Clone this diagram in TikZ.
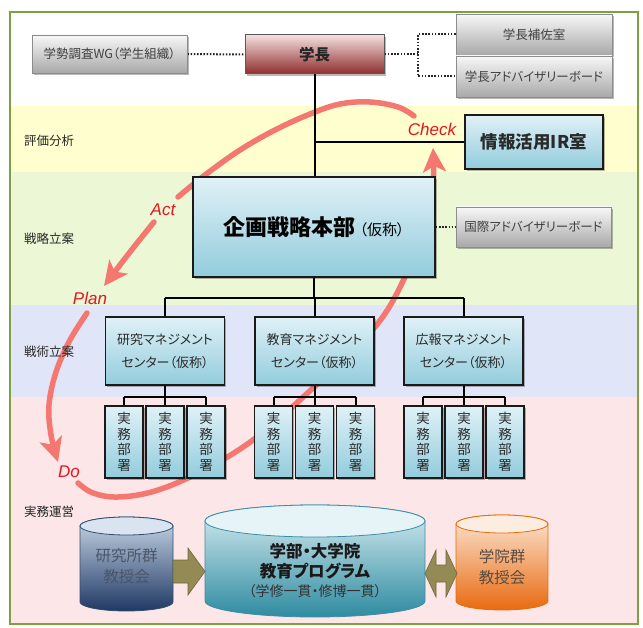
\documentclass[tikz,border=0pt]{standalone}
\usepackage{fontspec}
\newfontfamily\jp{Noto Sans CJK JP}[RawFeature=+palt]
\newfontfamily\lat{Liberation Sans}
\usetikzlibrary{arrows.meta,shadows,calc}
\pgfdeclarelayer{back}
\pgfdeclarelayer{pdca}
\pgfdeclarelayer{lines}
\pgfsetlayers{back,pdca,lines,main}
\definecolor{bandY}{HTML}{FEFECF}
\definecolor{bandG}{HTML}{EBF7D5}
\definecolor{bandB}{HTML}{E1E5F8}
\definecolor{bandP}{HTML}{FDE6E8}
\definecolor{frame}{HTML}{7F9F45}
\definecolor{graytop}{HTML}{F8F8F8}
\definecolor{graybot}{HTML}{A8A8A8}
\definecolor{grayline}{HTML}{8C8C8C}
\definecolor{graytext}{HTML}{404040}
\definecolor{bluetop}{HTML}{E0F1F7}
\definecolor{bluebot}{HTML}{92CCDC}
\definecolor{boxline}{HTML}{1A1A1A}
\definecolor{bluetext}{HTML}{2A2A2A}
\definecolor{gakutop}{HTML}{F4DEDE}
\definecolor{gakubot}{HTML}{8E2C2C}
\definecolor{gakuline}{HTML}{595959}
\definecolor{pdcared}{HTML}{F47870}
\definecolor{labred}{HTML}{E3161E}
\definecolor{cylLtop}{HTML}{C9D8E8}
\definecolor{cylLbot}{HTML}{1F3864}
\definecolor{cylLcap}{HTML}{D9E4F0}
\definecolor{cylLline}{HTML}{2F4F70}
\definecolor{cylLtext}{HTML}{4A5568}
\definecolor{cylCtop}{HTML}{DAEEF3}
\definecolor{cylCbot}{HTML}{2E8BA0}
\definecolor{cylCcap}{HTML}{E6F4F8}
\definecolor{cylCline}{HTML}{3B8EA5}
\definecolor{cylRtop}{HTML}{FCE6D4}
\definecolor{cylRbot}{HTML}{E86A10}
\definecolor{cylRcap}{HTML}{FDEDE0}
\definecolor{cylRline}{HTML}{E46C0A}
\definecolor{cylRtext}{HTML}{5A4A40}
\definecolor{olive}{HTML}{948A54}
\definecolor{oliveline}{HTML}{6E6840}
\begin{document}
\begin{tikzpicture}[x=1pt,y=1pt,
  shadowed/.style={drop shadow={shadow xshift=1.5pt,shadow yshift=-1.8pt,opacity=0.28,fill=black}},
  graybox/.style={shadowed, draw=grayline, line width=0.8pt, top color=graytop, bottom color=graybot,
    text=graytext, inner sep=0pt, font=\jp\fontsize{12.5}{15}\selectfont},
  bluebox/.style={shadowed, draw=boxline, line width=1.2pt, top color=bluetop, bottom color=bluebot,
    text=bluetext, inner sep=0pt, align=center},
  centerbox/.style={bluebox, minimum width=119pt, minimum height=68pt, font=\jp\fontsize{13}{23}\selectfont},
  jbox/.style={bluebox, minimum width=38pt, minimum height=72pt, font=\jp\fontsize{13.5}{15.5}\selectfont},
  conn/.style={line width=2pt, black},
  dots/.style={line width=2pt, dash pattern=on 1.6pt off 1.6pt, black!85},
  pdca/.style={draw=pdcared, line width=5.5pt, line cap=round},
  pdcatip/.style={-{Stealth[length=24pt,width=23pt,inset=6pt]}},
  pdcalab/.style={text=labred, font=\lat\itshape\fontsize{17}{20}\selectfont, inner sep=0pt},
  bandlab/.style={anchor=west, font=\jp\fontsize{12.5}{15}\selectfont, text=black!85, inner sep=0pt},
  cyltext/.style={font=\jp\fontsize{15.5}{21}\selectfont, align=center, inner sep=0pt},
  blockarrow/.style={fill=olive, draw=oliveline, line width=0.6pt}
]
\useasboundingbox (0,0) rectangle (643,-628);
\begin{pgfonlayer}{back}
  \fill[white] (0,0) rectangle (643,-628);
  \fill[white] (10,-12) rectangle (638,-106);
  \fill[bandY] (10,-106) rectangle (638,-172);
  \fill[bandG] (10,-172) rectangle (638,-305);
  \fill[bandB] (10,-305) rectangle (638,-397);
  \fill[bandP] (10,-397) rectangle (638,-624);
  \draw[frame, line width=2pt] (10,-12) rectangle (638,-624);
\end{pgfonlayer}

% band labels
\node[bandlab] (l1) at (24,-141) {評価分析};
\node[bandlab] (l2) at (24,-239) {戦略立案};
\node[bandlab] (l3) at (24,-352) {戦術立案};
\node[bandlab] (l4) at (24,-512) {実務運営};

% PDCA cycle
\begin{pgfonlayer}{pdca}
  \draw[pdca] plot[smooth, tension=0.6] coordinates {(414,-116) (398,-107) (370,-102) (340,-104) (310,-114) (275,-130) (240,-150) (205,-175) (178,-197)};
  \draw[pdca, pdcatip] plot[smooth, tension=0.6] coordinates {(154,-222) (130,-252) (104,-286)};
  \draw[pdca, pdcatip] plot[smooth, tension=0.6] coordinates {(87,-313) (70,-340) (56,-372) (49,-405) (51,-435) (58,-462)};
  \draw[pdca, pdcatip] plot[smooth, tension=0.6] coordinates {(78,-483) (93,-493) (118,-497) (155,-491) (200,-472) (253,-440) (313,-388) (375,-327) (405,-277) (424,-228) (433,-185) (433,-148)};
\end{pgfonlayer}

% top row
\node[graybox, minimum width=155pt, minimum height=38pt] (wg) at (109.5,-54) {学勢調査WG（学生組織）};
\node[shadowed, draw=gakuline, line width=1pt, top color=gakutop, bottom color=gakubot,
  minimum width=139pt, minimum height=39pt, inner sep=0pt,
  font=\jp\bfseries\fontsize{15.5}{18}\selectfont, text=black!85] (gakucho) at (314.5,-54.5) {学長};
\node[graybox, minimum width=156pt, minimum height=41pt] (hosa) at (534,-34.5) {学長補佐室};
\node[graybox, minimum width=156pt, minimum height=41pt] (adv) at (534,-76.5) {学長アドバイザリーボード};

\node[bluebox, line width=2.2pt, minimum width=138pt, minimum height=54pt,
  font=\jp\bfseries\fontsize{17.5}{20}\selectfont] (ir) at (534,-142) {情報活用IR室};
\node[bluebox, line width=1.5pt, minimum width=242pt, minimum height=100pt,
  font=\jp\bfseries\fontsize{22}{26}\selectfont, text=black] (kikaku) at (314,-227)
  {企画戦略本部\hspace{4pt}{\mdseries\fontsize{15}{18}\selectfont （仮称）}};
\node[graybox, minimum width=155pt, minimum height=40pt] (kokusai) at (533.5,-227) {国際アドバイザリーボード};

% centers
\node[centerbox] (c1) at (165,-351) {研究マネジメント\\センター（仮称）};
\node[centerbox] (c2) at (314.5,-351) {教育マネジメント\\センター（仮称）};
\node[centerbox] (c3) at (463.5,-351) {広報マネジメント\\センター（仮称）};

% jitsumu
\foreach \n/\x in {ja1/124, ja2/165, ja3/206, jb1/273.5, jb2/314.5, jb3/355.5, jc1/423, jc2/464, jc3/505}
  \node[jbox] (\n) at (\x,-442) {実\\務\\部\\署};

% connectors
\coordinate (brk) at (418,-54.5);
\coordinate (bar) at (0,-298);
\coordinate (sbar) at (0,-397);
\begin{pgfonlayer}{lines}
  \draw[dots] (wg.east) -- (gakucho.west);
  \draw[dots] (gakucho.east) -- (brk);
  \draw[dots] (hosa.west) -| (brk) |- (adv.west);
  \draw[dots] (kikaku.east |- kokusai.west) -- (kokusai.west);
  \draw[conn] (gakucho.south) -- (gakucho.south |- kikaku.north);
  \draw[conn] (gakucho.south |- ir.west) -- (ir.west);
  \draw[conn] (kikaku.south) -- (kikaku.south |- bar);
  \draw[conn] (c1.north |- bar) -- (c3.north |- bar);
  \foreach \c in {c1,c2,c3} \draw[conn] (\c.north |- bar) -- (\c.north);
  \foreach \c/\g in {c1/ja, c2/jb, c3/jc} {
    \draw[conn] (\c.south) -- (\c.south |- sbar);
    \draw[conn] (\g1.north |- sbar) -- (\g3.north |- sbar);
    \foreach \k in {1,2,3} \draw[conn] (\g\k.north |- sbar) -- (\g\k.north);
  }
\end{pgfonlayer}

% cylinders
\shade[top color=cylLtop, bottom color=cylLbot, draw=cylLline, line width=0.8pt]
  (80,-526) -- (80,-602) arc[start angle=180,end angle=360,x radius=46.5pt,y radius=9pt]
  -- (173,-526) arc[start angle=0,end angle=180,x radius=46.5pt,y radius=9pt] -- cycle;
\draw[fill=cylLcap, draw=cylLline, line width=0.8pt] (126.5,-526) ellipse[x radius=46.5pt, y radius=9pt];
\node[cyltext, text=cylLtext] (cylL) at (126.5,-566.5) {研究所群\\教授会};

\shade[top color=cylCtop, bottom color=cylCbot, draw=cylCline, line width=0.8pt]
  (205,-521) -- (205,-601) arc[start angle=180,end angle=360,x radius=110pt,y radius=16pt]
  -- (425,-521) arc[start angle=0,end angle=180,x radius=110pt,y radius=16pt] -- cycle;
\draw[fill=cylCcap, draw=cylCline, line width=0.8pt] (315,-521) ellipse[x radius=110pt, y radius=16pt];
\node[font=\jp\bfseries\fontsize{16.5}{20}\selectfont, text=black!90, inner sep=0pt] (cC1) at (315,-551) {学部・大学院};
\node[font=\jp\bfseries\fontsize{16.5}{20}\selectfont, text=black!90, inner sep=0pt] (cC2) at (315,-571) {教育プログラム};
\node[font=\jp\fontsize{14}{17}\selectfont, text=black!80, inner sep=0pt] (cC3) at (315,-591) {（学修一貫・修博一貫）};

\shade[top color=cylRtop, bottom color=cylRbot, draw=cylRline, line width=0.8pt]
  (456,-524) -- (456,-601) arc[start angle=180,end angle=360,x radius=46pt,y radius=9pt]
  -- (548,-524) arc[start angle=0,end angle=180,x radius=46pt,y radius=9pt] -- cycle;
\draw[fill=cylRcap, draw=cylRline, line width=0.8pt] (502,-524) ellipse[x radius=46pt, y radius=9pt];
\node[cyltext, text=cylRtext] (cylR) at (502,-567) {学院群\\教授会};

% block arrows
\coordinate (aL) at (173,-571.5);
\coordinate (aLt) at (205,-571.5);
\draw[blockarrow] ($(aL)+(0,11.5)$) -- ($(aL)+(15,11.5)$) -- ($(aL)+(15,23.5)$) -- (aLt)
  -- ($(aL)+(15,-23.5)$) -- ($(aL)+(15,-11.5)$) -- ($(aL)+(0,-11.5)$) -- cycle;
\coordinate (dL) at (425,-573.5);
\coordinate (dR) at (457,-573.5);
\draw[blockarrow] (dL) -- ($(dL)+(11,23.5)$) -- ($(dL)+(11,8.5)$) -- ($(dR)+(-11,8.5)$) -- ($(dR)+(-11,23.5)$)
  -- (dR) -- ($(dR)+(-11,-23.5)$) -- ($(dR)+(-11,-8.5)$) -- ($(dL)+(11,-8.5)$) -- ($(dL)+(11,-23.5)$) -- cycle;

% PDCA labels
\node[pdcalab] (chk) at (432,-129) {Check};
\node[pdcalab] (act) at (163,-210) {Act};
\node[pdcalab] (plan) at (90,-298) {Plan};
\node[pdcalab] (do) at (69,-472) {Do};
\end{tikzpicture}
\end{document}
